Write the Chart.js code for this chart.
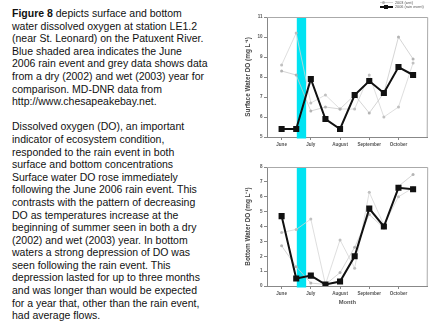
<!DOCTYPE html>
<html><head><meta charset="utf-8">
<script src="https://cdn.jsdelivr.net/npm/chart.js@4.4.0/dist/chart.umd.min.js"></script>
<style>
html,body{margin:0;padding:0;background:#fff;width:431px;height:326px;overflow:hidden;position:relative;}
#text{position:absolute;left:12px;top:7px;font-family:Arial,"Liberation Sans",sans-serif;font-size:10.5px;line-height:12.6px;color:#111;white-space:nowrap;}
#c1{position:absolute;left:220px;top:0;}
#c2{position:absolute;left:220px;top:160px;}
.leg{position:absolute;font-family:Arial,"Liberation Sans",sans-serif;font-size:3.8px;line-height:4px;color:#555;white-space:nowrap;}
.ln{position:absolute;}
</style></head><body>
<div id="text"><b>Figure 8</b> depicts surface and bottom<br>water dissolved oxygen at station LE1.2<br>(near St. Leonard) on the Patuxent River.<br>Blue shaded area indicates the June<br>2006 rain event and grey data shows data<br>from a dry (2002) and wet (2003) year for<br>comparison. MD-DNR data from<br>http://www.chesapeakebay.net.<br><br>Dissolved oxygen (DO), an important<br>indicator of ecosystem condition,<br>responded to the rain event in both<br>surface and bottom concentrations<br>Surface water DO rose immediately<br>following the June 2006 rain event. This<br>contrasts with the pattern of decreasing<br>DO as temperatures increase at the<br>beginning of summer seen in both a dry<br>(2002) and wet (2003) year. In bottom<br>waters a strong depression of DO was<br>seen following the rain event. This<br>depression lasted for up to three months<br>and was longer than would be expected<br>for a year that, other than the rain event,<br>had average flows.</div>
<canvas id="c1" width="212" height="160"></canvas>
<canvas id="c2" width="212" height="166"></canvas>
<div class="ln" style="left:380px;top:2.2px;width:13px;height:0.8px;background:#d4d4d4"></div>
<div class="ln" style="left:381.5px;top:1.2px;width:3px;height:3px;border-radius:50%;background:#b4b4b4"></div>
<div class="leg" style="left:395px;top:0.7px">2003 (wet)</div>
<div class="ln" style="left:380px;top:6.3px;width:13px;height:1.6px;background:#111"></div>
<div class="ln" style="left:384px;top:5px;width:4.2px;height:4.2px;background:#111"></div>
<div class="leg" style="left:395px;top:5.2px">2006 (rain event)</div>
<script>
const months = ['June','July','August','September','October'];
const monthPos = [0,1,2,3,4];
const samplePos = [0,0.5,1,1.5,2,2.5,3,3.5,4,4.5];
const rainEvent = [0.52, 0.84];

const surface2002 = [8.6,10.2,6.7,7.1,6.4,6.4,8.1,6.0,6.5,8.7];
const surface2003 = [8.3,8.1,6.3,6.5,6.4,7.1,6.2,7.2,10.0,8.9];
const surface2006 = [5.4,5.4,7.9,5.9,5.4,7.1,7.8,7.2,8.5,8.1];

const bottom2002 = [3.6,3.8,4.5,0.1,3.1,1.2,6.3,4.1,6.0,6.6];
const bottom2003 = [2.7,1.3,0.2,0.1,0.9,2.6,4.8,3.9,6.7,7.5];
const bottom2006 = [4.7,0.5,0.7,0.1,0.3,2.0,5.2,4.0,6.6,6.5];

const surfaceTicks = [5,6,7,8,9,10,11];
const bottomTicks = [0,1,2,3,4,5,6,7,8];

const FONT = 'Arial, "Liberation Sans", sans-serif';
const pts = (arr) => arr.map((v,i)=>({x:samplePos[i], y:v}));

const bandPlugin = {
  id:'band',
  beforeDatasetsDraw(chart){
    const {ctx, chartArea:a, scales:{x}} = chart;
    const x1 = x.getPixelForValue(rainEvent[0]);
    const x2 = x.getPixelForValue(rainEvent[1]);
    ctx.save();
    ctx.fillStyle = '#00e3f2';
    ctx.fillRect(x1, a.top, x2-x1, a.bottom-a.top+1.5);
    ctx.restore();
  },
  afterDraw(chart){
    const {ctx, chartArea:a} = chart;
    ctx.save();
    ctx.strokeStyle = '#aaa';
    ctx.lineWidth = 1;
    ctx.beginPath();
    ctx.moveTo(a.left, a.top+0.5); ctx.lineTo(a.right, a.top+0.5);
    ctx.lineTo(a.right-0.5, a.bottom);
    ctx.stroke();
    ctx.restore();
  }
};

function makeChart(id, d02, d03, d06, yTicks, yTitle, xAxisH, padTop, showMonth){
  const lineA = '#d6d6d6', lineB = '#cacaca', markA = '#c0c0c0', markB = '#b4b4b4';
  return new Chart(document.getElementById(id), {
    type:'line',
    data:{datasets:[
      {label:'2006 (rain event)', data:pts(d06), borderColor:'#111', backgroundColor:'#111', borderWidth:2,
       pointStyle:'rect', pointRadius:4.3, pointBorderWidth:0},
      {label:'2003 (wet)', data:pts(d03), borderColor:lineB, backgroundColor:markB, borderWidth:0.8,
       pointStyle:'circle', pointRadius:1.5, pointBorderWidth:0},
      {label:'2002 (dry)', data:pts(d02), borderColor:lineA, backgroundColor:markA, borderWidth:0.8,
       pointStyle:'circle', pointRadius:1.5, pointBorderWidth:0}
    ]},
    options:{
      responsive:false, animation:false, devicePixelRatio:1,
      layout:{padding:{top:padTop,left:0,right:0,bottom:0}},
      plugins:{legend:{display:false}, tooltip:{enabled:false}},
      elements:{line:{tension:0}},
      scales:{
        x:{type:'linear', min:-0.5, max:5,
          afterBuildTicks:(s)=>{ s.ticks = monthPos.map(v=>({value:v})); },
          afterFit:(s)=>{ s.height = xAxisH; },
          ticks:{autoSkip:false, maxRotation:0, padding:1.5, color:'#555',
            font:{family:FONT, size:4.6, weight:'bold'},
            callback:(v)=>months[monthPos.indexOf(v)] ?? ''},
          grid:{drawOnChartArea:false, drawTicks:true, tickLength:3, color:'#888'},
          border:{display:true, color:'#888'},
          title:{display:showMonth, text:'Month', color:'#555', padding:{top:0,bottom:20},
            font:{family:FONT, size:5.8, weight:'bold'}}
        },
        y:{min:yTicks[0], max:yTicks[yTicks.length-1],
          afterBuildTicks:(s)=>{ s.ticks = yTicks.map(v=>({value:v})); },
          afterFit:(s)=>{ s.width = 47; },
          ticks:{padding:1.5, color:'#555', font:{family:FONT, size:4.6, weight:'bold'},
            callback:(v)=>String(v)},
          grid:{drawOnChartArea:false, drawTicks:true, tickLength:3, color:'#888'},
          border:{display:true, color:'#888'},
          title:{display:true, text:yTitle, color:'#444', padding:{top:24,bottom:0},
            font:{family:FONT, size:6.4, weight:'bold'}}
        }
      }
    },
    plugins:[bandPlugin]
  });
}

makeChart('c1', surface2002, surface2003, surface2006, surfaceTicks, 'Surface Water DO (mg L\u207B\u00B9)', 23, 17, false);
makeChart('c2', bottom2002, bottom2003, bottom2006, bottomTicks, 'Bottom Water DO (mg L\u207B\u00B9)', 40, 7, true);
</script>
</body></html>
